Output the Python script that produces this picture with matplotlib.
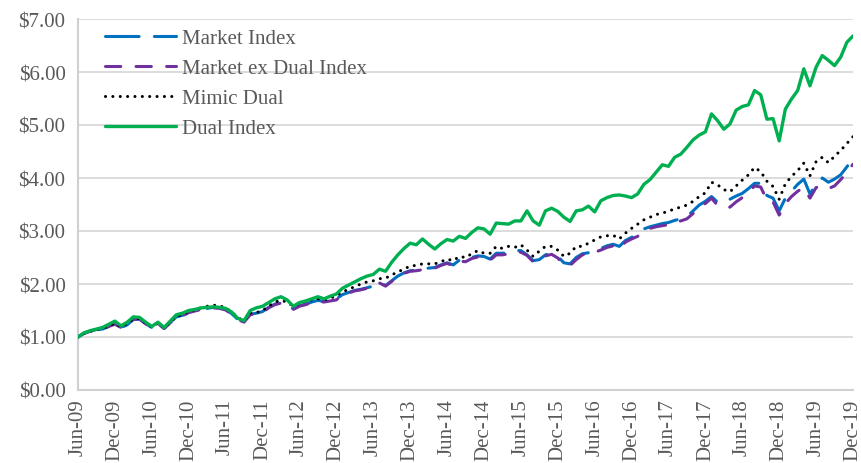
import matplotlib
matplotlib.use("Agg")
import matplotlib.pyplot as plt
from matplotlib.ticker import FuncFormatter

tick_labels = ["Jun-09", "Dec-09", "Jun-10", "Dec-10", "Jun-11", "Dec-11", "Jun-12",
               "Dec-12", "Jun-13", "Dec-13", "Jun-14", "Dec-14", "Jun-15", "Dec-15",
               "Jun-16", "Dec-16", "Jun-17", "Dec-17", "Jun-18", "Dec-18", "Jun-19", "Dec-19"]

market_index = [
    1.00, 1.07, 1.11, 1.14, 1.15, 1.20, 1.25, 1.18, 1.23, 1.33,
    1.34, 1.25, 1.18, 1.25, 1.16, 1.28, 1.38, 1.41, 1.47, 1.50,
    1.53, 1.54, 1.56, 1.55, 1.52, 1.44, 1.33, 1.28, 1.43, 1.45,
    1.48, 1.56, 1.62, 1.65, 1.60, 1.53, 1.59, 1.62, 1.66, 1.69,
    1.67, 1.70, 1.72, 1.80, 1.84, 1.88, 1.90, 1.93, 1.96, 2.03,
    1.97, 2.06, 2.15, 2.21, 2.25, 2.26, 2.28, 2.30, 2.31, 2.36,
    2.40, 2.36, 2.45, 2.44, 2.50, 2.53, 2.52, 2.47, 2.58, 2.58,
    2.60, 2.63, 2.63, 2.55, 2.44, 2.46, 2.55, 2.58, 2.52, 2.40,
    2.38, 2.50, 2.57, 2.59, 2.63, 2.67, 2.72, 2.75, 2.71, 2.82,
    2.88, 2.94, 3.04, 3.08, 3.11, 3.14, 3.16, 3.20, 3.23, 3.27,
    3.38, 3.49, 3.56, 3.65, 3.54, 3.53, 3.60, 3.66, 3.71, 3.80,
    3.90, 3.90, 3.67, 3.62, 3.38, 3.62, 3.75, 3.88, 3.98, 3.70,
    3.88, 4.00, 3.92, 3.98, 4.06, 4.21, 4.38]

market_ex_dual = [
    1.00, 1.07, 1.11, 1.13, 1.15, 1.20, 1.24, 1.18, 1.23, 1.33,
    1.34, 1.25, 1.18, 1.25, 1.16, 1.27, 1.37, 1.40, 1.46, 1.49,
    1.52, 1.53, 1.55, 1.54, 1.51, 1.43, 1.33, 1.28, 1.42, 1.44,
    1.46, 1.55, 1.61, 1.64, 1.59, 1.52, 1.58, 1.61, 1.65, 1.67,
    1.66, 1.68, 1.70, 1.79, 1.83, 1.87, 1.89, 1.92, 1.95, 2.02,
    1.96, 2.05, 2.14, 2.20, 2.24, 2.25, 2.27, 2.29, 2.30, 2.35,
    2.39, 2.34, 2.43, 2.42, 2.48, 2.51, 2.50, 2.45, 2.55, 2.55,
    2.57, 2.60, 2.60, 2.54, 2.42, 2.45, 2.53, 2.56, 2.49, 2.36,
    2.35, 2.46, 2.55, 2.57, 2.60, 2.64, 2.69, 2.72, 2.66, 2.79,
    2.85, 2.90, 3.00, 3.05, 3.08, 3.10, 3.12, 3.16, 3.19, 3.23,
    3.33, 3.45, 3.52, 3.62, 3.48, 3.45, 3.45, 3.55, 3.63, 3.73,
    3.85, 3.83, 3.58, 3.55, 3.30, 3.52, 3.65, 3.75, 3.82, 3.62,
    3.82, 3.85, 3.80, 3.85, 3.97, 4.10, 4.26]

mimic_dual = [
    1.00, 1.07, 1.11, 1.14, 1.16, 1.21, 1.26, 1.19, 1.25, 1.34,
    1.35, 1.26, 1.19, 1.26, 1.17, 1.28, 1.39, 1.42, 1.48, 1.51,
    1.55, 1.58, 1.60, 1.59, 1.55, 1.47, 1.36, 1.31, 1.45, 1.46,
    1.50, 1.58, 1.66, 1.69, 1.66, 1.58, 1.63, 1.68, 1.70, 1.72,
    1.70, 1.73, 1.78, 1.85, 1.90, 1.95, 2.00, 2.04, 2.06, 2.10,
    2.11, 2.17, 2.23, 2.28, 2.34, 2.35, 2.38, 2.38, 2.38, 2.42,
    2.47, 2.44, 2.52, 2.50, 2.57, 2.63, 2.58, 2.58, 2.71, 2.67,
    2.71, 2.69, 2.74, 2.64, 2.52, 2.62, 2.71, 2.71, 2.64, 2.52,
    2.58, 2.71, 2.71, 2.77, 2.83, 2.89, 2.91, 2.92, 2.85, 2.96,
    3.05, 3.13, 3.21, 3.26, 3.31, 3.34, 3.37, 3.42, 3.45, 3.49,
    3.56, 3.65, 3.72, 3.92, 3.87, 3.78, 3.74, 3.85, 3.96, 4.06,
    4.20, 4.12, 3.94, 3.84, 3.60, 3.89, 4.03, 4.14, 4.28, 4.04,
    4.31, 4.39, 4.29, 4.41, 4.52, 4.65, 4.78]

dual_index = [
    1.00, 1.08, 1.12, 1.15, 1.18, 1.24, 1.30, 1.21, 1.28, 1.38,
    1.37, 1.28, 1.20, 1.28, 1.18, 1.30, 1.42, 1.45, 1.50, 1.52,
    1.55, 1.56, 1.57, 1.56, 1.54, 1.47, 1.35, 1.31, 1.50, 1.55,
    1.58, 1.65, 1.72, 1.76, 1.70, 1.58, 1.65, 1.68, 1.72, 1.76,
    1.72, 1.77, 1.81, 1.92, 1.98, 2.04, 2.10, 2.15, 2.18, 2.28,
    2.24, 2.41, 2.55, 2.67, 2.77, 2.74, 2.85, 2.75, 2.66, 2.76,
    2.84, 2.81, 2.90, 2.86, 2.97, 3.06, 3.04, 2.94, 3.15, 3.14,
    3.13, 3.19, 3.19, 3.38, 3.19, 3.11, 3.38, 3.43, 3.37, 3.26,
    3.18, 3.38, 3.40, 3.47, 3.36, 3.57, 3.63, 3.67, 3.68, 3.66,
    3.63, 3.70, 3.88, 3.97, 4.11, 4.25, 4.22, 4.39, 4.45, 4.58,
    4.72, 4.81, 4.87, 5.21, 5.08, 4.92, 5.02, 5.28, 5.35, 5.38,
    5.65, 5.57, 5.11, 5.12, 4.70, 5.30, 5.49, 5.65, 6.06, 5.74,
    6.09, 6.31, 6.22, 6.12, 6.28, 6.56, 6.68]

series_names = ["Market Index", "Market ex Dual Index", "Mimic Dual", "Dual Index"]

plt.rcParams['font.family'] = ['Liberation Serif', 'DejaVu Serif']
text_color = "#595959"

fig = plt.figure(figsize=(8.62, 4.64), dpi=100)
ax = fig.add_axes([78/862, 1 - 391/464, (853 - 78)/862, (391 - 20)/464])

x = list(range(len(dual_index)))
lw = 2.2
ax.plot(x, market_index, color="#0070C0", lw=lw, linestyle=(0, (11, 5)),
        dash_capstyle="round", solid_capstyle="round", label=series_names[0], zorder=3)
ax.plot(x, market_ex_dual, color="#7030A0", lw=lw, linestyle=(0, (5, 5)),
        dash_capstyle="round", label=series_names[1], zorder=4)
ax.plot(x, mimic_dual, color="black", lw=2.2, linestyle=(0, (0.01, 2.4)),
        dash_capstyle="round", label=series_names[2], zorder=5)
ax.plot(x, dual_index, color="#00B050", lw=2.4, solid_capstyle="round",
        label=series_names[3], zorder=6)

ax.set_xlim(0, len(dual_index) - 1)
ax.set_ylim(0, 7)
ax.set_yticks(range(0, 8))
ax.yaxis.set_major_formatter(FuncFormatter(lambda v, p: "${:.2f}".format(v)))
ax.set_xticks(range(0, len(dual_index), 6))
ax.set_xticklabels(tick_labels, rotation=90)

ax.grid(axis="y", color="#d9d9d9", lw=1.3)
ax.set_axisbelow(True)
for s in ["top", "right"]:
    ax.spines[s].set_visible(False)
for s in ["left", "bottom"]:
    ax.spines[s].set_color("#d0d0d0")
    ax.spines[s].set_linewidth(1.5)
ax.tick_params(axis="both", length=0, labelsize=15, colors=text_color)
ax.tick_params(axis="y", pad=9)
ax.tick_params(axis="x", pad=6)

leg = ax.legend(loc="upper left", bbox_to_anchor=(0.035, 0.975), frameon=False,
                fontsize=15, handlelength=3.4, handletextpad=0.3, labelspacing=0.5,
                borderpad=0, borderaxespad=0)
for t in leg.get_texts():
    t.set_color(text_color)

fig.savefig("out.png", dpi=100)
